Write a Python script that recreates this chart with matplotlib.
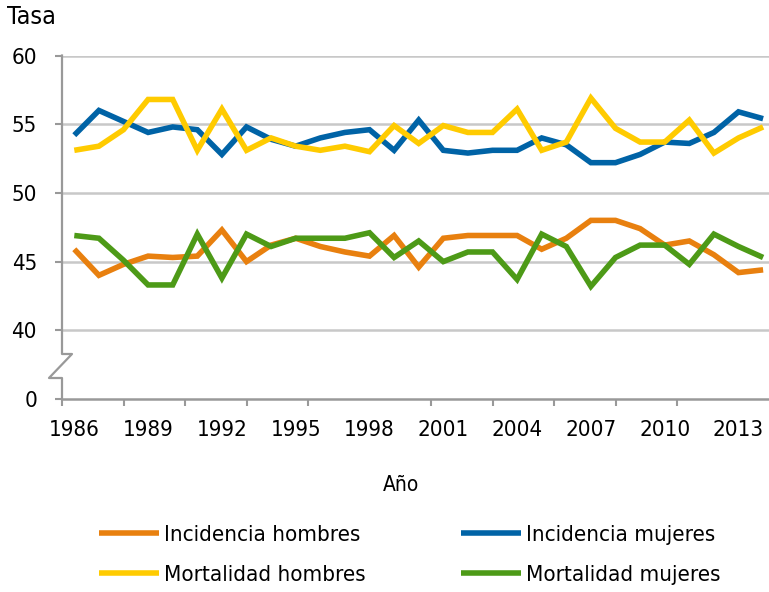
import matplotlib
matplotlib.use("Agg")
import matplotlib.pyplot as plt
import numpy as np

years = list(range(1986, 2015))

incidencia_hombres = [45.9, 44.0, 44.8, 45.4, 45.3, 45.4, 47.3, 45.0, 46.2, 46.7,
                      46.1, 45.7, 45.4, 46.9, 44.6, 46.7, 46.9, 46.9, 46.9, 45.9,
                      46.7, 48.0, 48.0, 47.4, 46.2, 46.5, 45.5, 44.2, 44.4]
incidencia_mujeres = [54.2, 56.0, 55.2, 54.4, 54.8, 54.6, 52.8, 54.8, 53.9, 53.4,
                      54.0, 54.4, 54.6, 53.1, 55.3, 53.1, 52.9, 53.1, 53.1, 54.0,
                      53.5, 52.2, 52.2, 52.8, 53.7, 53.6, 54.4, 55.9, 55.4]
mortalidad_hombres = [53.1, 53.4, 54.6, 56.8, 56.8, 53.1, 56.1, 53.1, 54.0, 53.4,
                      53.1, 53.4, 53.0, 54.9, 53.6, 54.9, 54.4, 54.4, 56.1, 53.1,
                      53.7, 56.9, 54.7, 53.7, 53.7, 55.3, 52.9, 54.0, 54.8]
mortalidad_mujeres = [46.9, 46.7, 45.1, 43.3, 43.3, 47.0, 43.8, 47.0, 46.1, 46.7,
                      46.7, 46.7, 47.1, 45.3, 46.5, 45.0, 45.7, 45.7, 43.7, 47.0,
                      46.1, 43.2, 45.3, 46.2, 46.2, 44.8, 47.0, 46.1, 45.3]

series_labels = ["Incidencia hombres", "Incidencia mujeres",
                 "Mortalidad hombres", "Mortalidad mujeres"]
series_colors = ["#E8800F", "#0063A6", "#FFCB00", "#4D9A17"]

tick_values = [0, 40, 45, 50, 55, 60]
label_years = list(range(1986, 2015, 3))

plt.rcParams["font.family"] = ["DejaVu Sans"]
plt.rcParams["font.stretch"] = "condensed"

# broken axis: the "0" is drawn one gap (5 units) below 40
def to_axis(v):
    return 35 if v == 0 else v

fig = plt.figure(figsize=(7.69, 5.92), dpi=100)
ax = fig.add_axes([62 / 769, 1 - 399 / 592, 1 - 62 / 769, (399 - 55.5) / 592])

all_series = [incidencia_hombres, incidencia_mujeres, mortalidad_hombres, mortalidad_mujeres]
handles = []
for vals, lab, col in zip(all_series, series_labels, series_colors):
    ln, = ax.plot(years, vals, color=col, lw=4, label=lab, solid_joinstyle="miter",
                  solid_capstyle="butt")
    handles.append(ln)

ax.set_xlim(1985.5, 1985.5 + (769 - 62) / 24.6)
ax.set_ylim(35, 60)

ax.set_yticks([to_axis(v) for v in tick_values])
ax.set_yticklabels([str(v) for v in tick_values])
for v in tick_values[1:]:
    ax.axhline(v, color="#C8C8C8", lw=1.8, zorder=0)

ax.set_xticks(label_years)
ax.set_xticklabels([str(y) for y in label_years])
ax.set_xticks(np.arange(1985.5, 2014.3, 2.5), minor=True)
ax.tick_params(axis="x", which="major", length=0, pad=15, labelsize=16)
ax.tick_params(axis="x", which="minor", length=5, width=1.5, color="#999999")
ax.tick_params(axis="y", length=5, width=1.5, color="#999999", pad=13, labelsize=16)

for s in ["top", "right", "left"]:
    ax.spines[s].set_visible(False)
ax.spines["bottom"].set_color("#999999")
ax.spines["bottom"].set_linewidth(1.8)

# y axis line with the break mark
w = 769 - 62
h = 399 - 55.5
bx = [0, 0, 10 / w, -13 / w, 0, 0]
by = [1, (399 - 354) / h, (399 - 354) / h, (399 - 378) / h, (399 - 378) / h, 0]
ax.plot(bx, by, transform=ax.transAxes, color="#999999", lw=1.6, clip_on=False)

fig.text(7 / 769, 1 - 17 / 592, "Tasa", fontsize=18, va="center", ha="left")
fig.text(401 / 769, 1 - 485 / 592, "Año", fontsize=15, va="center", ha="center")

# legend is filled column-wise, so reorder to get rows IH/IM and MH/MM
order = [0, 2, 1, 3]
fig.legend([handles[i] for i in order], [series_labels[i] for i in order],
           loc="center", bbox_to_anchor=(410 / 769, 1 - 555 / 592), ncol=2,
           frameon=False, fontsize=16, handlelength=2.7, handletextpad=0.22,
           columnspacing=4.3, labelspacing=0.9, borderpad=0, borderaxespad=0)

fig.savefig("out.png", dpi=100)
